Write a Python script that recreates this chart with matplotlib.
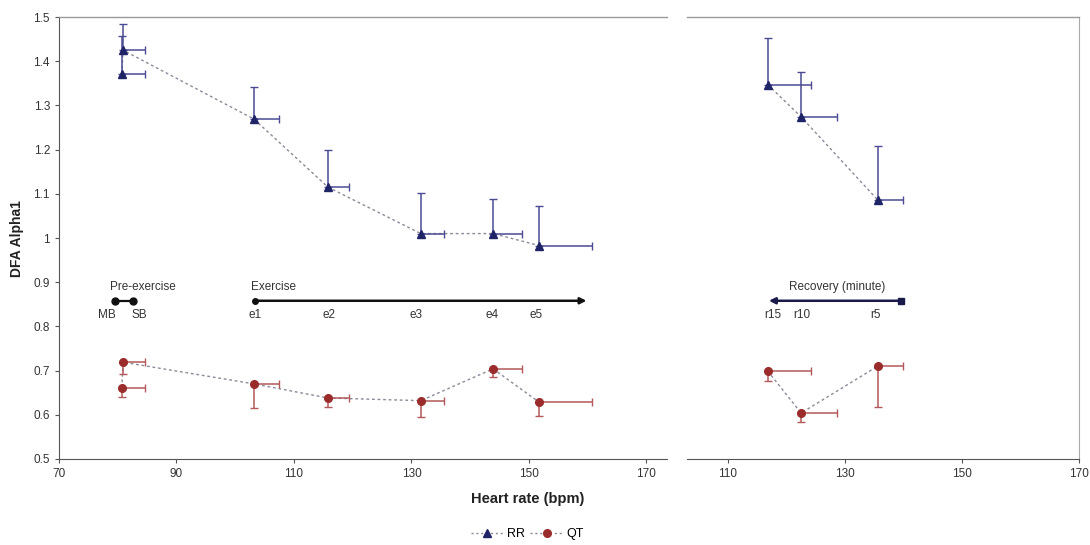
"""DFA alpha1 vs heart rate, split exercise / recovery panels."""

import matplotlib

matplotlib.use("Agg")
import matplotlib.pyplot as plt  # noqa: E402

plt.rcParams["font.family"] = ["Liberation Sans", "DejaVu Sans"]

# exercise phase (MB, SB, e1..e5)
ex_hr = [80.7, 80.9, 103.2, 115.8, 131.6, 143.9, 151.7]
ex_hr_err = [3.9, 3.7, 4.2, 3.6, 3.9, 4.9, 9.0]
ex_rr = [1.371, 1.425, 1.269, 1.115, 1.010, 1.010, 0.983]
ex_rr_err = [0.086, 0.059, 0.073, 0.083, 0.092, 0.079, 0.089]
ex_qt = [0.661, 0.719, 0.670, 0.638, 0.632, 0.704, 0.629]
ex_qt_err = [0.021, 0.027, 0.055, 0.020, 0.036, 0.018, 0.032]

# recovery phase (r15, r10, r5)
rec_hr = [116.8, 122.5, 135.6]
rec_hr_err = [7.4, 6.1, 4.3]
rec_rr = [1.347, 1.274, 1.086]
rec_rr_err = [0.105, 0.102, 0.122]
rec_qt = [0.699, 0.604, 0.710]
rec_qt_err = [0.023, 0.020, 0.092]

# schematic timeline labels
pre_labels = ["MB", "SB"]
pre_pos = [79.5, 82.6]
ex_labels = ["e1", "e2", "e3", "e4", "e5"]
ex_pos = [103.3, 116.0, 130.8, 143.7, 151.2]
rec_labels = ["r15", "r10", "r5"]
rec_pos = [117.7, 122.6, 135.3]

RR_MARK = "#1f2466"
RR_ERR = "#4b4c94"
QT_MARK = "#9a2c2c"
QT_ERR = "#b3595b"
LINE = "#8a8a9a"
SPINE = "#555555"

fig = plt.figure(figsize=(10.9, 5.45), dpi=100)
ax_l = fig.add_axes([0.0541, 0.1578, 0.5578, 0.811])
ax_r = fig.add_axes([0.6303, 0.1578, 0.3596, 0.811])


def draw_series(ax, hr, hr_err, vals, val_err, up, mark, err, marker, size):
    lower = [0 if up else e for e in val_err]
    upper = [e if up else 0 for e in val_err]
    ax.errorbar(hr, vals, yerr=[lower, upper], xerr=[[0] * len(hr), hr_err],
                fmt="none", ecolor=err, elinewidth=1.1, capsize=3,
                capthick=1.0, zorder=2)
    ax.plot(hr, vals, linestyle=(0, (2, 2)), color=LINE, linewidth=1.0, zorder=1)
    ax.plot(hr, vals, linestyle="none", marker=marker, markersize=size,
            color=mark, markeredgecolor=mark, zorder=3)


draw_series(ax_l, ex_hr, ex_hr_err, ex_rr, ex_rr_err, True, RR_MARK, RR_ERR, "^", 6)
draw_series(ax_l, ex_hr, ex_hr_err, ex_qt, ex_qt_err, False, QT_MARK, QT_ERR, "o", 5.5)
draw_series(ax_r, rec_hr, rec_hr_err, rec_rr, rec_rr_err, True, RR_MARK, RR_ERR, "^", 6)
draw_series(ax_r, rec_hr, rec_hr_err, rec_qt, rec_qt_err, False, QT_MARK, QT_ERR, "o", 5.5)

# timelines
tl_y = 0.858
lab_fs = 8.5
ax_l.plot(pre_pos, [tl_y, tl_y], color="#111111", linewidth=1.6, marker="o",
          markersize=5)
ax_l.text(pre_pos[0] - 0.8, 0.89, "Pre-exercise", fontsize=lab_fs, color="#333333",
          ha="left", va="center")
for lab, x in zip(pre_labels, pre_pos):
    ax_l.text(x + (-1.3 if lab == "MB" else 1.0), 0.826, lab, fontsize=lab_fs,
              color="#333333", ha="center", va="center")

ax_l.annotate("", xy=(159.8, tl_y), xytext=(ex_pos[0], tl_y),
              arrowprops=dict(arrowstyle="-|>", color="#111111", lw=1.8,
                              mutation_scale=9, shrinkA=0, shrinkB=0))
ax_l.plot([ex_pos[0]], [tl_y], marker="o", markersize=4, color="#111111")
ax_l.text(ex_pos[0] - 0.6, 0.89, "Exercise", fontsize=lab_fs, color="#333333",
          ha="left", va="center")
for lab, x in zip(ex_labels, ex_pos):
    ax_l.text(x, 0.826, lab, fontsize=lab_fs, color="#333333", ha="center",
              va="center")

ax_r.annotate("", xy=(117.0, tl_y), xytext=(139.8, tl_y),
              arrowprops=dict(arrowstyle="-|>", color="#1a1a4a", lw=1.8,
                              mutation_scale=9, shrinkA=0, shrinkB=0))
ax_r.plot([139.6], [tl_y], marker="s", markersize=4, color="#1a1a4a")
ax_r.text(128.6, 0.89, "Recovery (minute)", fontsize=lab_fs, color="#333333",
          ha="center", va="center")
for lab, x in zip(rec_labels, rec_pos):
    ax_r.text(x, 0.826, lab, fontsize=lab_fs, color="#333333", ha="center",
              va="center")

# axes styling
ax_l.set_xlim(70, 173.5)
ax_r.set_xlim(103, 170)
for ax in (ax_l, ax_r):
    ax.set_ylim(0.5, 1.5)
    ax.tick_params(labelsize=8.5, length=3, width=0.8, colors=SPINE,
                   labelcolor="#333333")
    ax.spines["bottom"].set_color(SPINE)
    ax.spines["top"].set_color("#999999")
    ax.spines["top"].set_linewidth(1.0)

ax_l.set_xticks([70, 90, 110, 130, 150, 170])
ax_l.set_yticks([0.5, 0.6, 0.7, 0.8, 0.9, 1.0, 1.1, 1.2, 1.3, 1.4, 1.5])
ax_l.set_yticklabels(["0.5", "0.6", "0.7", "0.8", "0.9", "1", "1.1", "1.2",
                      "1.3", "1.4", "1.5"])
ax_l.spines["right"].set_visible(False)
ax_l.spines["left"].set_color(SPINE)

ax_r.set_xticks([110, 130, 150, 170])
ax_r.set_yticks([])
ax_r.spines["left"].set_visible(False)
ax_r.spines["right"].set_color("#aaaaaa")

fig.text(0.484, 0.085, "Heart rate (bpm)", fontsize=10.5, fontweight="bold",
         ha="center", va="center", color="#222222")
fig.text(0.016, 0.563, "DFA Alpha1", fontsize=10, fontweight="bold",
         rotation=90, ha="center", va="center", color="#222222")

# legend
rr_handle, = ax_l.plot([], [], linestyle=(0, (1.5, 2)), color=LINE, marker="^",
                       markersize=5.5, markerfacecolor=RR_MARK,
                       markeredgecolor=RR_MARK, linewidth=1)
qt_handle, = ax_l.plot([], [], linestyle=(0, (1.5, 2)), color=LINE, marker="o",
                       markersize=5.5, markerfacecolor=QT_MARK,
                       markeredgecolor=QT_MARK, linewidth=1)
fig.legend([rr_handle, qt_handle], ["RR", "QT"], loc="center",
           bbox_to_anchor=(0.484, 0.02), ncol=2, frameon=False, fontsize=9,
           handlelength=2.6, columnspacing=0.4, handletextpad=0.3)

fig.savefig("out.png", dpi=100)
